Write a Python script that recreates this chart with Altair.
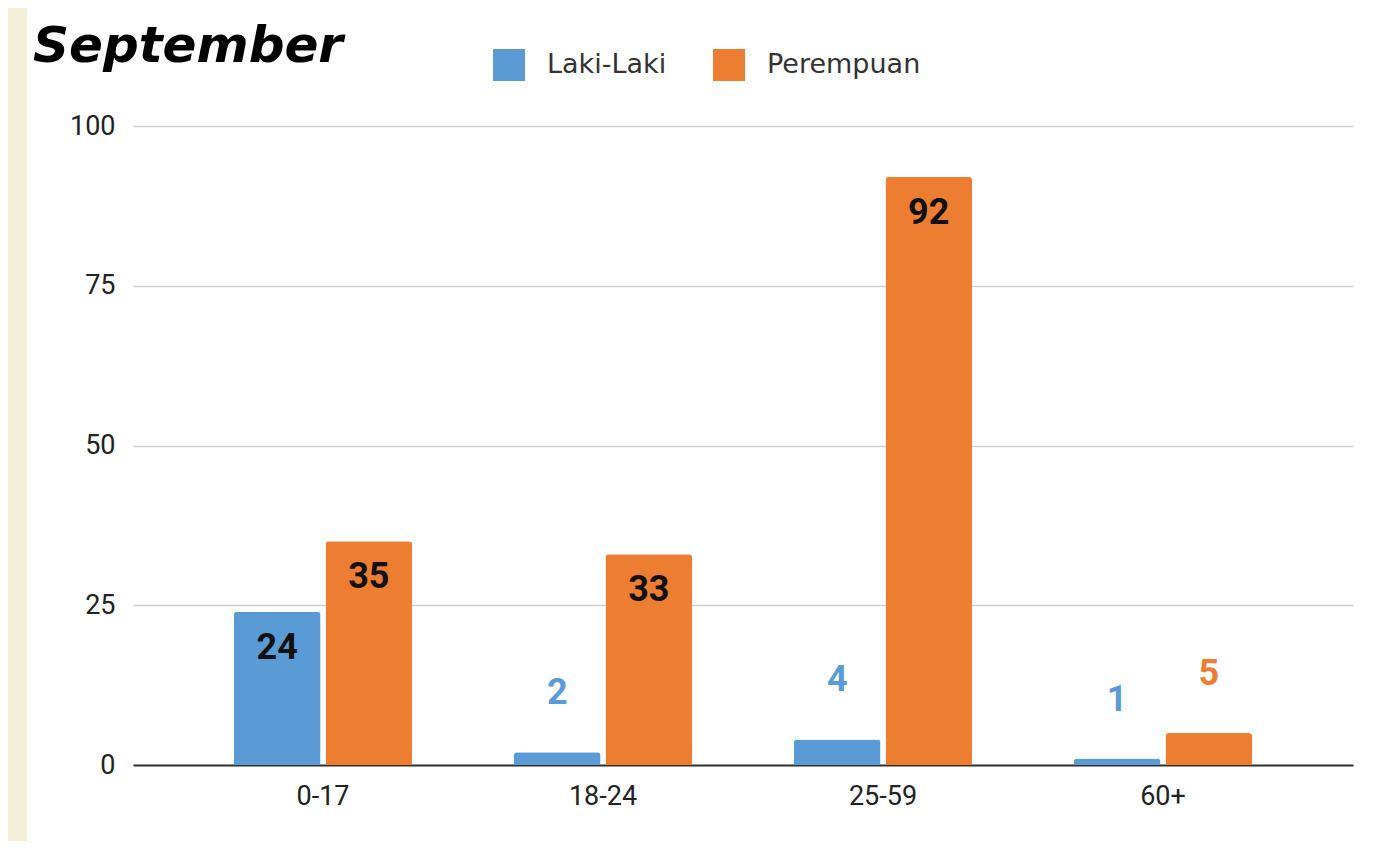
import altair as alt
import pandas as pd

categories = ["0-17", "18-24", "25-59", "60+"]
series = ["Laki-Laki", "Perempuan"]
laki_laki = [24, 2, 4, 1]
perempuan = [35, 33, 92, 5]
y_ticks = [0, 25, 50, 75, 100]
title_text = "September"

colors = ["#5b9bd5", "#ed7d31"]
cream = "#f3efd8"

rows = []
for i, c in enumerate(categories):
    rows.append({"age": c, "gender": series[0], "value": laki_laki[i]})
    rows.append({"age": c, "gender": series[1], "value": perempuan[i]})
df = pd.DataFrame(rows)

x_enc = alt.X("age:N", sort=categories, title=None,
              scale=alt.Scale(paddingInner=0.364, paddingOuter=0.3607),
              axis=alt.Axis(labelAngle=0, ticks=False, labelPadding=18,
                            domainColor="#333333", domainWidth=2,
                            labelFont="Roboto", labelFontSize=27, labelColor="#222222"))
xoff_enc = alt.XOffset("gender:N", sort=series, scale=alt.Scale(paddingInner=0.055, paddingOuter=0))
y_enc = alt.Y("value:Q", title=None,
              scale=alt.Scale(domain=[0, 100], nice=False),
              axis=alt.Axis(values=y_ticks, domain=False, ticks=False, labelPadding=18,
                            gridColor="#d0d0d0", gridWidth=1.5,
                            labelFont="Roboto", labelFontSize=27, labelColor="#222222"))
color_scale = alt.Scale(domain=series, range=colors)

base = alt.Chart(df).encode(x=x_enc, xOffset=xoff_enc)

bars = base.mark_bar(cornerRadiusTopLeft=3, cornerRadiusTopRight=3).encode(
    y=y_enc,
    color=alt.Color("gender:N", sort=series, scale=color_scale,
                    legend=alt.Legend(orient="none", legendX=360, legendY=-77,
                                      direction="horizontal", title=None,
                                      symbolType="square", symbolSize=1024,
                                      symbolStrokeWidth=0, labelFont="DejaVu Sans",
                                      labelFontSize=27, labelColor="#333333",
                                      labelOffset=22, columnPadding=46, padding=0)),
)

inside = base.transform_filter("datum.value >= 10").mark_text(
    font="Roboto", fontSize=36, fontWeight="bold", color="#111111",
    baseline="middle", dy=36
).encode(y=alt.Y("value:Q"), text=alt.Text("value:Q"))

outside = base.transform_filter("datum.value < 10").mark_text(
    font="Roboto", fontSize=36, fontWeight="bold",
    baseline="middle", dy=-59
).encode(y=alt.Y("value:Q"), text=alt.Text("value:Q"),
         color=alt.Color("gender:N", sort=series, scale=color_scale, legend=None))

strip = alt.Chart(alt.Data(values=[{"a": 1}])).mark_rect(color=cream).encode(
    x=alt.value(-125), x2=alt.value(-106), y=alt.value(-118), y2=alt.value(715)
)

title = alt.Chart(alt.Data(values=[{"t": title_text}])).mark_text(
    align="left", baseline="alphabetic", font="DejaVu Sans", fontSize=50,
    fontWeight="bold", fontStyle="italic", color="#000000"
).encode(x=alt.value(-100), y=alt.value(-64), text="t:N")

chart = alt.layer(strip, bars, inside, outside, title).properties(
    width=1220, height=639,
    autosize=alt.AutoSizeParams(type="none"),
    padding={"left": 125, "top": 118, "right": 23, "bottom": 76},
    background="#ffffff",
).configure_view(stroke=None)

chart.save("out.html", embed_options={"renderer": "svg", "actions": False})
